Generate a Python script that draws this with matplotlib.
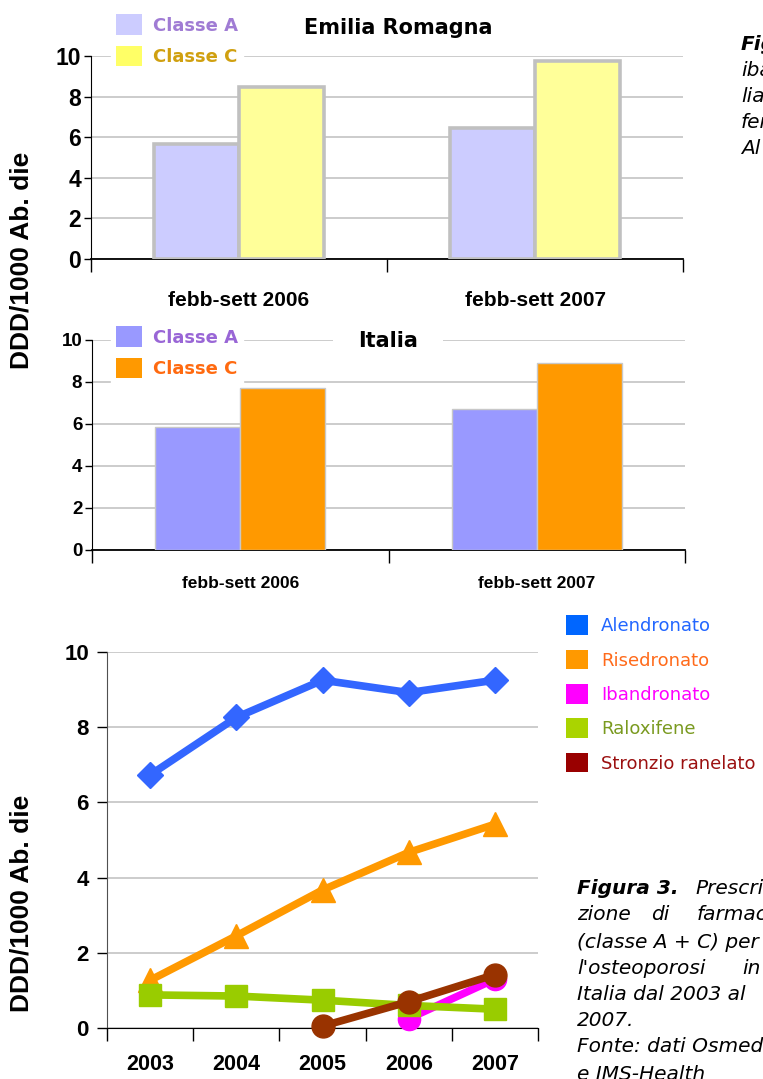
import matplotlib
matplotlib.use("Agg")
import matplotlib.pyplot as plt
import numpy as np
from matplotlib.patches import Patch
from matplotlib.ticker import NullFormatter

# values
periods = ["febb-sett 2006", "febb-sett 2007"]
er_classe_a = [5.65, 6.45]
er_classe_c = [8.45, 9.75]
it_classe_a = [5.85, 6.7]
it_classe_c = [7.7, 8.9]

years = ["2003", "2004", "2005", "2006", "2007"]
alendronato = [6.73, 8.26, 9.25, 8.92, 9.25]
risedronato = [1.27, 2.45, 3.67, 4.67, 5.42]
ibandronato = [np.nan, np.nan, np.nan, 0.25, 1.3]
raloxifene = [0.88, 0.85, 0.74, 0.6, 0.5]
stronzio = [np.nan, np.nan, 0.05, 0.7, 1.42]
drug_names = ["Alendronato", "Risedronato", "Ibandronato", "Raloxifene", "Stronzio ranelato"]
yticks = [0, 2, 4, 6, 8, 10]

NARROW = ["Liberation Sans Narrow", "Liberation Sans", "DejaVu Sans"]
ARIAL = ["Liberation Sans", "DejaVu Sans"]
VERD = ["DejaVu Sans"]

W, H = 763, 1079
fig = plt.figure(figsize=(W / 100, H / 100), dpi=100)


def box(l, t, r, b):
    return [l / W, 1 - b / H, (r - l) / W, (b - t) / H]


def style_labels(labels, family, size, weight="bold"):
    for t in labels:
        t.set_family(family)
        t.set_size(size)
        t.set_weight(weight)


def bar_panel(rect, a_vals, c_vals, a_col, c_col, edge, lw, tick_size, cat_size, cat_pad):
    ax = fig.add_axes(rect)
    x = np.arange(len(periods))
    w = 0.287
    ax.bar(x - w / 2, a_vals, w, color=a_col, edgecolor=edge, linewidth=lw, zorder=3)
    ax.bar(x + w / 2, c_vals, w, color=c_col, edgecolor=edge, linewidth=lw, zorder=3)
    ax.set_xlim(-0.5, len(periods) - 0.5)
    ax.set_ylim(0, 10)
    ax.set_yticks(yticks)
    ax.yaxis.grid(True, color="#c4c4c4", lw=1.2)
    ax.set_axisbelow(True)
    for s in ["top", "right"]:
        ax.spines[s].set_visible(False)
    ax.spines["left"].set_color("black")
    ax.spines["bottom"].set_linewidth(1.3)
    ax.set_xticks(np.arange(-0.5, len(periods)))
    ax.xaxis.set_major_formatter(NullFormatter())
    ax.set_xticks(x, labels=periods, minor=True)
    ax.tick_params(axis="x", which="major", length=9, width=1)
    ax.tick_params(axis="x", which="minor", length=0, pad=cat_pad)
    ax.tick_params(axis="y", length=5, width=1, pad=2)
    style_labels(ax.get_yticklabels(), NARROW, tick_size)
    style_labels(ax.get_xticklabels(minor=True), NARROW, cat_size)
    return ax


leg_kw = dict(loc="upper left", bbox_transform=fig.transFigure, frameon=True,
              facecolor="white", edgecolor="white", framealpha=1, fancybox=False,
              borderpad=0.3, handlelength=1.42, handleheight=1.35, labelspacing=0.62,
              handletextpad=0.6, borderaxespad=0,
              prop={"family": VERD, "weight": "bold", "size": 13})

# Emilia Romagna
ax1 = bar_panel(box(91, 56, 683, 259), er_classe_a, er_classe_c,
                "#ccccff", "#ffff99", "#c0c0c0", 2.6, 16.5, 15, 23)
ax1.legend([Patch(facecolor="#ccccff"), Patch(facecolor="#ffff66")],
           ["Classe A", "Classe C"], bbox_to_anchor=(111 / W, 1 - 9 / H),
           labelcolor=["#a07cd4", "#d0a010"], **leg_kw)
fig.text(398 / W, 1 - 28 / H, "Emilia Romagna", ha="center", va="center",
         family=VERD, weight="bold", size=15)

# Italia
ax2 = bar_panel(box(92, 340, 685, 550), it_classe_a, it_classe_c,
                "#9999ff", "#ff9900", "#c8c8c8", 1.0, 13.5, 12.5, 19)
ax2.legend([Patch(facecolor="#9999ff"), Patch(facecolor="#ff9900")],
           ["Classe A", "Classe C"], bbox_to_anchor=(111 / W, 1 - 321 / H),
           labelcolor=["#9966d6", "#ff6a10"], **leg_kw)
fig.text(388 / W, 1 - 341 / H, "Italia", ha="center", va="center",
         family=VERD, weight="bold", size=15,
         bbox=dict(facecolor="white", edgecolor="none", boxstyle="square,pad=1.2"))

fig.text(22 / W, 1 - 260 / H, "DDD/1000 Ab. die", rotation=90, ha="center", va="center",
         family=ARIAL, weight="bold", size=19)

# trend 2003-2007
ax3 = fig.add_axes(box(107, 652, 538, 1028))
xx = np.arange(len(years))
series = [alendronato, risedronato, ibandronato, raloxifene, stronzio]
line_cols = ["#3366ff", "#ff9900", "#ff00ff", "#99cc00", "#993300"]
markers = ["D", "^", "o", "s", "o"]
msizes = [13, 17, 16, 16, 16.5]
for vals, col, mk, ms in zip(series, line_cols, markers, msizes):
    ax3.plot(xx, vals, color=col, lw=5.5, marker=mk, ms=ms, mec=col, clip_on=False, zorder=3)
ax3.set_xlim(-0.5, len(years) - 0.5)
ax3.set_ylim(0, 10)
ax3.set_yticks(yticks)
ax3.yaxis.grid(True, color="#c4c4c4", lw=1.2)
ax3.set_axisbelow(True)
for s in ["top", "right"]:
    ax3.spines[s].set_visible(False)
ax3.spines["left"].set_color("#505050")
ax3.set_xticks(np.arange(-0.5, len(years)))
ax3.xaxis.set_major_formatter(NullFormatter())
ax3.set_xticks(xx, labels=years, minor=True)
ax3.tick_params(axis="x", which="major", length=9, width=1)
ax3.tick_params(axis="x", which="minor", length=0, pad=19)
ax3.tick_params(axis="y", length=7, width=1, pad=6, colors="black")
style_labels(ax3.get_yticklabels(), ARIAL, 16)
style_labels(ax3.get_xticklabels(minor=True), ARIAL, 15.5)

patch_cols = ["#0066ff", "#ff9900", "#ff00ff", "#aad400", "#990000"]
text_cols = ["#2266ff", "#ff6a1a", "#ff00ff", "#7a9a20", "#9b1010"]
ax3.legend([Patch(facecolor=c) for c in patch_cols], drug_names, loc="upper left",
           bbox_to_anchor=(561 / W, 1 - 610 / H), bbox_transform=fig.transFigure,
           frameon=False, borderpad=0.3, handlelength=1.22, handleheight=1.3,
           labelspacing=0.8, handletextpad=0.7, borderaxespad=0,
           labelcolor=text_cols, prop={"family": VERD, "size": 13})

fig.text(22 / W, 1 - 903 / H, "DDD/1000 Ab. die", rotation=90, ha="center", va="center",
         family=ARIAL, weight="bold", size=19)

# bits of the surrounding page text, cut by the image edge
cap_font = dict(family=VERD, size=14.5, style="italic", va="center")
top_lines = ["Fig", "iba", "lia", "fer", "Al"]
for i, s in enumerate(top_lines):
    fig.text(741 / W, 1 - (45 + 26 * i) / H, s,
             weight="bold" if i == 0 else "normal", **cap_font)

fig.text(577 / W, 1 - 889 / H, "Figura 3.", weight="bold", **cap_font)
fig.text(695 / W, 1 - 889 / H, "Prescri-", **cap_font)
fig.text(577 / W, 1 - 915 / H, "zione", **cap_font)
fig.text(651 / W, 1 - 915 / H, "di", **cap_font)
fig.text(697 / W, 1 - 915 / H, "farmaci", **cap_font)
fig.text(577 / W, 1 - 942 / H, "(classe A + C) per", **cap_font)
fig.text(577 / W, 1 - 968 / H, "l'osteoporosi", **cap_font)
fig.text(742 / W, 1 - 968 / H, "in", **cap_font)
fig.text(577 / W, 1 - 995 / H, "Italia dal 2003 al", **cap_font)
fig.text(577 / W, 1 - 1021 / H, "2007.", **cap_font)
fig.text(577 / W, 1 - 1047 / H, "Fonte: dati Osmed", **cap_font)
fig.text(577 / W, 1 - 1074 / H, "e IMS-Health", **cap_font)

fig.savefig("out.png", dpi=100)
